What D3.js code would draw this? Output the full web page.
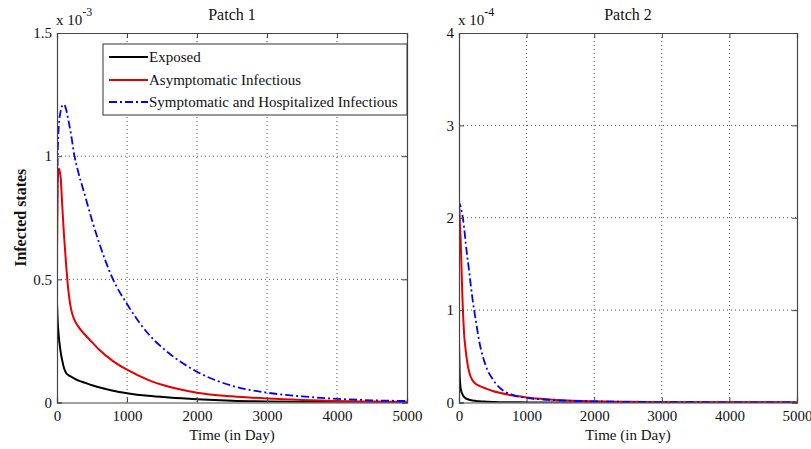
<!DOCTYPE html>
<html><head><meta charset="utf-8">
<script src="https://cdn.jsdelivr.net/npm/d3@7"></script>
<style>body{margin:0;background:#fff} text{font-family:"Liberation Serif","Times New Roman",serif;fill:#111}</style>
</head><body><svg id="c" width="811" height="449"></svg>
<script>
// ---------- data ----------
const xTicks = [0, 1000, 2000, 3000, 4000, 5000];
const yTicks1 = [0, 0.5, 1, 1.5];
const yTicks2 = [0, 1, 2, 3, 4];
const seriesNames = ["Exposed", "Asymptomatic Infectious", "Symptomatic and Hospitalized Infectious"];
const panelTitles = ["Patch 1", "Patch 2"];
const exponents = ["-3", "-4"];

// Patch 1 (x 10^-3)
const t1 =        [0,    10,   25,   50,   75,    100,  130,  160,  200,  250,  300,  400,  500,  600,  800,  1000,  1300,  1600, 2000,  2500,  3000,  3500,  4000,  4500,  5000];
const exposed1 =  [0.40, 0.33, 0.27, 0.21, 0.17,  0.14, 0.12, 0.112,0.105,0.097,0.09, 0.08, 0.07, 0.062,0.048,0.038, 0.027, 0.02, 0.013, 0.007, 0.004, 0.0025,0.0015,0.001, 0.0006];
const asym1 =     [0.60, 0.90, 0.95, 0.92, 0.80,  0.68, 0.56, 0.46, 0.38, 0.335,0.31, 0.275,0.245,0.215,0.168,0.133, 0.092, 0.064,0.04,  0.025, 0.016, 0.010, 0.006, 0.004, 0.003];
const symp1 =     [0.70, 1.00, 1.12, 1.18, 1.205, 1.21, 1.19, 1.15, 1.09, 1.00, 0.94, 0.84, 0.74, 0.65, 0.50, 0.40,  0.28,  0.20, 0.125, 0.068, 0.04,  0.025, 0.015, 0.009, 0.006];

// Patch 2 (x 10^-4)
const t2 =        [0,    10,   25,   50,   75,   100,  150,  200,  250,  300,  400,  500,  600,  800,  1000,  1300,  1600,  2000,  2500,  3000,  4000,  5000];
const exposed2 =  [0.65, 0.30, 0.15, 0.09, 0.06, 0.045,0.03, 0.022,0.017,0.013,0.009,0.006,0.004,0.002,0.001, 0.0005,0.0003,0.0002,0.0001,0,     0,     0];
const asym2 =     [2.20, 2.00, 1.75, 1.15, 0.75, 0.56, 0.33, 0.24, 0.20, 0.18, 0.15, 0.125,0.105,0.075,0.055, 0.035, 0.022, 0.013, 0.007, 0.004, 0.002, 0.001];
const symp2 =     [2.10, 2.15, 2.12, 2.03, 1.90, 1.72, 1.42, 1.12, 0.88, 0.66, 0.39, 0.25, 0.16, 0.08, 0.05,  0.03,  0.02,  0.012, 0.007, 0.004, 0.002, 0.001];

// ---------- drawing ----------
const svg = d3.select("#c");
const colors = ["#000000", "#e60000", "#0000ff"];
const widths = [2, 2, 1.8];
const dashes = [null, null, "8,3,2,3"];
const FS = "15px";

const panels = [
  {left: 57, right: 407, top: 33, bottom: 402.5, yMax: 1.5, yTicks: yTicks1, t: t1, series: [exposed1, asym1, symp1], title: panelTitles[0], exp: exponents[0]},
  {left: 459, right: 797, top: 33, bottom: 402.5, yMax: 4, yTicks: yTicks2, t: t2, series: [exposed2, asym2, symp2], title: panelTitles[1], exp: exponents[1]}
];

panels.forEach((p, pi) => {
  const x = d3.scaleLinear().domain([0, 5000]).range([p.left, p.right]);
  const y = d3.scaleLinear().domain([0, p.yMax]).range([p.bottom, p.top]);
  const g = svg.append("g");
  const clipId = "clip" + pi;
  svg.append("clipPath").attr("id", clipId).append("rect")
    .attr("x", p.left).attr("y", p.top).attr("width", p.right - p.left).attr("height", p.bottom - p.top);

  // grid
  g.append("g").selectAll("line").data(xTicks.slice(1, -1)).join("line")
    .attr("x1", d => x(d)).attr("x2", d => x(d)).attr("y1", p.top).attr("y2", p.bottom)
    .attr("stroke", "#555").attr("stroke-width", 1).attr("stroke-dasharray", "1,3");
  g.append("g").selectAll("line").data(p.yTicks.slice(1, -1)).join("line")
    .attr("y1", d => y(d)).attr("y2", d => y(d)).attr("x1", p.left).attr("x2", p.right)
    .attr("stroke", "#555").attr("stroke-width", 1).attr("stroke-dasharray", "1,3");

  // lines
  const line = d3.line().x((d, i) => x(p.t[i])).y(d => y(d)).curve(d3.curveMonotoneX);
  const lg = g.append("g").attr("clip-path", `url(#${clipId})`);
  p.series.forEach((s, si) => {
    lg.append("path").attr("d", line(s)).attr("fill", "none")
      .attr("stroke", colors[si]).attr("stroke-width", widths[si])
      .attr("stroke-dasharray", dashes[si]).attr("stroke-linejoin", "round");
  });

  // axes (box with inward ticks)
  const xb = d3.axisBottom(x).tickValues(xTicks).tickSize(-5).tickPadding(8).tickFormat(d3.format("d"));
  const xt = d3.axisTop(x).tickValues(xTicks).tickSize(-5).tickFormat("");
  const yl = d3.axisLeft(y).tickValues(p.yTicks).tickSize(-5).tickPadding(5).tickFormat(d => String(d));
  const yr = d3.axisRight(y).tickValues(p.yTicks).tickSize(-5).tickFormat("");
  const axStyle = sel => {
    sel.select(".domain").attr("stroke", "#444").attr("stroke-width", 1.2);
    sel.selectAll(".tick line").attr("stroke", "#444");
    sel.selectAll("text").style("font-family", '"Liberation Serif", serif').style("font-size", FS).attr("fill", "#222");
  };
  g.append("g").attr("transform", `translate(0,${p.bottom})`).call(xb).call(axStyle);
  g.append("g").attr("transform", `translate(0,${p.top})`).call(xt).call(axStyle);
  g.append("g").attr("transform", `translate(${p.left},0)`).call(yl).call(axStyle);
  g.append("g").attr("transform", `translate(${p.right},0)`).call(yr).call(axStyle);

  // exponent
  const ex = g.append("text").attr("x", p.left - 1).attr("y", 25).style("font-size", FS);
  ex.append("tspan").text("x 10");
  ex.append("tspan").attr("dy", -9).style("font-size", "12px").text(p.exp);

  // title
  g.append("text").attr("x", (p.left + p.right) / 2).attr("y", 20).attr("text-anchor", "middle")
    .style("font-size", "16px").text(p.title);
  // x label
  g.append("text").attr("x", (p.left + p.right) / 2).attr("y", 440).attr("text-anchor", "middle")
    .style("font-size", FS).text("Time (in Day)");
});

// y label
svg.append("text").attr("transform", `translate(26,${(33 + 402.5) / 2}) rotate(-90)`)
  .attr("text-anchor", "middle").style("font-size", "16px").style("font-weight", "bold").text("Infected states");

// legend
const L = {left: 103, top: 44, right: 407, bottom: 115};
const leg = svg.append("g");
leg.append("rect").attr("x", L.left).attr("y", L.top).attr("width", L.right - L.left).attr("height", L.bottom - L.top)
  .attr("fill", "#fff").attr("stroke", "#333").attr("stroke-width", 1);
const rowY = [57, 80, 102];
seriesNames.forEach((n, i) => {
  leg.append("line").attr("x1", 109).attr("x2", 148).attr("y1", rowY[i]).attr("y2", rowY[i])
    .attr("stroke", colors[i]).attr("stroke-width", widths[i]).attr("stroke-dasharray", dashes[i]);
  leg.append("text").attr("x", 149).attr("y", rowY[i] + 5).style("font-size", FS).text(n);
});
</script></body></html>
